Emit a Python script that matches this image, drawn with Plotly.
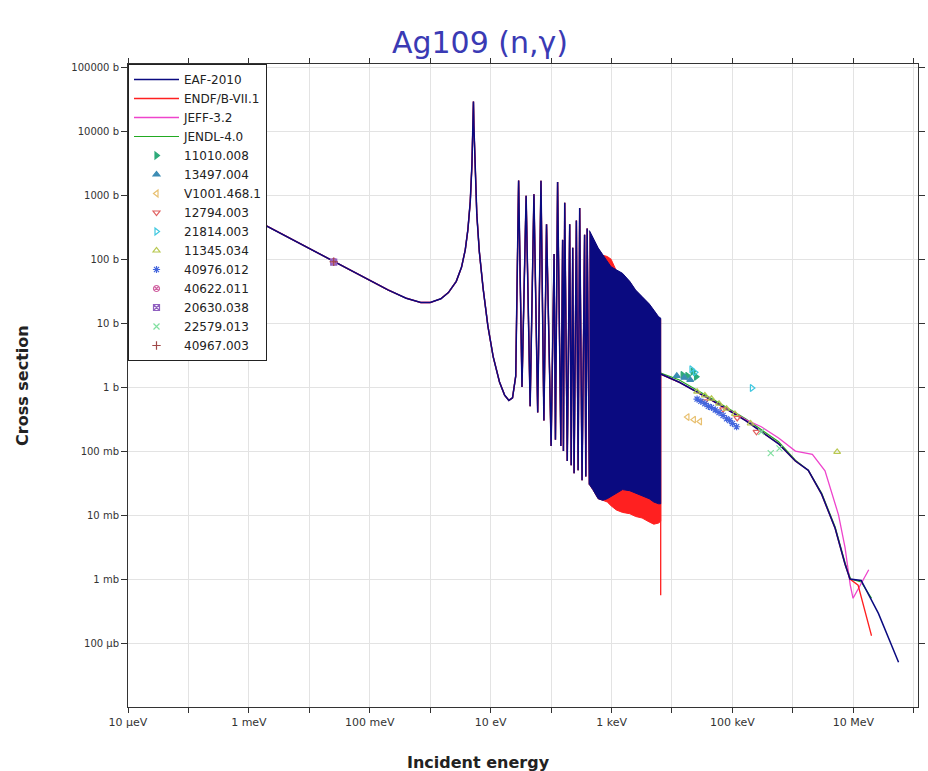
import plotly.graph_objects as go

# ---------------- data (energies in eV, cross sections in barns) ----------------
# shared thermal / first-resonance / resolved-resonance region
low_E = [1e-5, 1e-4, 1e-3, 3e-3, 0.01, 0.0253, 0.05, 0.1, 0.2, 0.4, 0.7, 1.0, 1.5, 2.0, 2.7,
         3.3, 3.8, 4.2, 4.6, 4.9, 5.1, 5.19, 5.28, 5.5, 5.9, 6.5, 7.5, 9, 11, 14, 17, 20, 23,
         26, 29, 33, 38.6, 45, 52, 60, 68, 76, 84, 100, 112, 118, 128, 145, 155, 160, 168,
         185, 203, 215, 228, 240, 262, 280, 297, 325, 358, 375, 395, 430]
low_xs = [4580, 1450, 458, 265, 145, 91.5, 65, 46, 33, 24.5, 21, 21, 24, 30, 45,
          75, 140, 290, 800, 3000, 12000, 29000, 12000, 2500, 500, 130, 35, 9, 3, 1.2, 0.75, 0.62, 0.68,
          1.5, 1700, 1.0, 980, 0.5, 1035, 0.4, 1680, 0.3, 350, 0.12, 120, 0.15, 1600, 0.12, 200, 0.1, 760,
          0.07, 350, 0.06, 150, 0.045, 400, 0.05, 630, 0.035, 240, 0.04, 300, 0.03]

# dense resonance block (envelopes)
block_E = [430, 490, 600, 717, 850, 980, 1200, 1520, 2000, 2500, 3200, 4200, 5000, 6000, 6500]
eaf_block_hi = [280, 224, 150, 117, 90, 76, 68, 60, 45, 33, 26, 20, 16, 12.6, 12]
eaf_block_lo = [0.03, 0.025, 0.018, 0.017, 0.018, 0.02, 0.022, 0.025, 0.024, 0.022, 0.02, 0.018, 0.016, 0.015, 0.015]
endf_block_hi = [270, 215, 145, 115, 110, 100, 66, 58, 44, 32, 25, 19.5, 15.5, 12.2, 11.5]
endf_block_lo = [0.03, 0.025, 0.018, 0.017, 0.016, 0.014, 0.012, 0.011, 0.0105, 0.0095, 0.009, 0.0078, 0.0072, 0.0075, 0.008]

# fast region
eaf_fast_E = [6.5e3, 1.3e4, 4.6e4, 1.65e5, 5.8e5, 1.1e6, 1.8e6, 3e6, 5e6, 7.3e6, 8.8e6, 1.35e7, 2.6e7, 5.6e7]
eaf_fast_xs = [1.6, 1.2, 0.62, 0.30, 0.13, 0.07, 0.05, 0.021, 0.0062, 0.0017, 0.001, 0.00095, 0.00029, 0.00005]

endf_fast_E = [6.5e3, 6.5e3, 1.3e4, 4.6e4, 1.65e5, 5.8e5, 1.1e6, 1.8e6, 3e6, 5e6, 7.3e6, 8.8e6, 1.2e7, 2.0e7]
endf_fast_xs = [0.00056, 1.6, 1.2, 0.62, 0.30, 0.13, 0.07, 0.05, 0.021, 0.0062, 0.0017, 0.001, 0.0008, 0.00013]

jeff_fast_E = [6.5e3, 1.3e4, 4.6e4, 1.65e5, 3e5, 5.8e5, 1.1e6, 2.1e6, 3.4e6, 5.7e6, 7.3e6, 8.9e6, 9.9e6, 1.2e7, 1.8e7]
jeff_fast_xs = [1.6, 1.2, 0.62, 0.31, 0.24, 0.16, 0.10, 0.089, 0.049, 0.010, 0.0031, 0.0008, 0.0005, 0.0007, 0.0014]

jendl_fast_E = [6.5e3, 1.3e4, 4.6e4, 1.65e5, 5.8e5, 1.1e6, 1.8e6, 3e6, 5e6, 7.3e6, 9e6, 1.35e7, 2e7]
jendl_fast_xs = [1.65, 1.3, 0.66, 0.32, 0.14, 0.072, 0.05, 0.022, 0.0065, 0.0018, 0.001, 0.0009, 0.0005]

# experimental data sets
exp_names = ["11010.008", "13497.004", "V1001.468.1", "12794.003", "21814.003", "11345.034",
             "40976.012", "40622.011", "20630.038", "22579.013", "40967.003"]
exp_E = [
    [1.5e4, 1.8e4, 2.2e4, 2.5e4],
    [1.2e4, 1.6e4, 2.0e4],
    [1.8e4, 2.3e4, 2.9e4],
    [3.5e4, 7e4, 1.2e5, 2.5e5],
    [2.1e4, 2.4e4, 2.1e5],
    [2.6e4, 3.5e4, 4.5e4, 6e4, 8e4, 1.1e5, 2e5, 5.4e6],
    [2.6e4, 3e4, 3.5e4, 4e4, 4.5e4, 5.2e4, 6e4, 7e4, 8e4, 9e4, 1e5, 1.17e5],
    [0.0253],
    [0.0253],
    [3e5, 4.3e5, 6e5],
    [0.0253],
]
exp_xs = [
    [1.55, 1.5, 1.75, 1.45],
    [1.5, 1.4, 1.3],
    [0.34, 0.31, 0.29],
    [0.6, 0.45, 0.33, 0.2],
    [1.9, 1.7, 0.97],
    [0.85, 0.74, 0.66, 0.55, 0.46, 0.38, 0.27, 0.097],
    [0.65, 0.6, 0.55, 0.5, 0.48, 0.44, 0.40, 0.36, 0.32, 0.30, 0.27, 0.24],
    [92],
    [90],
    [0.2, 0.093, 0.11],
    [91],
]
exp_symbols = ["triangle-right", "triangle-up", "triangle-left-open", "triangle-down-open",
               "triangle-right-open", "triangle-up-open", "asterisk-open", "circle-x-open",
               "square-x-open", "x-thin-open", "cross-thin-open"]
exp_colors = ["#2eaa7a", "#3c8cb4", "#e8c070", "#e06060", "#40c8e0", "#b8c850",
              "#4466dd", "#d060a0", "#9060c0", "#80e0a0", "#a04848"]

x_tickvals = [1e-5, 1e-4, 1e-3, 1e-2, 1e-1, 1, 10, 100, 1e3, 1e4, 1e5, 1e6, 1e7, 1e8]
x_ticktext = ["10 µeV", "", "1 meV", "", "100 meV", "", "10 eV", "", "1 keV", "", "100 keV", "", "10 MeV", ""]
y_tickvals = [1e-4, 1e-3, 1e-2, 1e-1, 1, 10, 100, 1e3, 1e4, 1e5]
y_ticktext = ["100 µb", "1 mb", "10 mb", "100 mb", "1 b", "10 b", "100 b", "1000 b", "10000 b", "100000 b"]

# ---------------- figure ----------------
fig = go.Figure()

def add_eval(name, color, width, rank, fast_E, fast_xs, block_hi=None, block_lo=None):
    fig.add_trace(go.Scatter(x=low_E, y=low_xs, mode="lines", name=name, legendgroup=name,
                             legendrank=rank, line=dict(color=color, width=width)))
    if block_hi is not None:
        fig.add_trace(go.Scatter(x=block_E + block_E[::-1], y=block_hi + block_lo[::-1],
                                 mode="lines", fill="toself", fillcolor=color,
                                 line=dict(color=color, width=1), showlegend=False,
                                 legendgroup=name, hoverinfo="skip"))
    fig.add_trace(go.Scatter(x=fast_E, y=fast_xs, mode="lines", showlegend=False, legendgroup=name,
                             line=dict(color=color, width=width)))

add_eval("JENDL-4.0", "#22aa22", 1.2, 4, jendl_fast_E, jendl_fast_xs)
add_eval("JEFF-3.2", "#ee44cc", 1.3, 3, jeff_fast_E, jeff_fast_xs)
add_eval("ENDF/B-VII.1", "#ff2020", 1.3, 2, endf_fast_E, endf_fast_xs, endf_block_hi, endf_block_lo)
add_eval("EAF-2010", "#0a0a80", 1.5, 1, eaf_fast_E, eaf_fast_xs, eaf_block_hi, eaf_block_lo)

for i, nm in enumerate(exp_names):
    fig.add_trace(go.Scatter(x=exp_E[i], y=exp_xs[i], mode="markers", name=nm, legendrank=10 + i,
                             marker=dict(symbol=exp_symbols[i], color=exp_colors[i], size=6,
                                         line=dict(color=exp_colors[i], width=1.2))))

fig.update_xaxes(type="log", range=[-5, 8.07], tickvals=x_tickvals, ticktext=x_ticktext,
                 showgrid=True, gridcolor="#e3e3e3", gridwidth=1, showline=True, linecolor="#333333",
                 linewidth=1, mirror="ticks", ticks="outside", ticklen=5, tickcolor="#333333",
                 tickfont=dict(family="DejaVu Sans", size=11, color="#333333"), zeroline=False)
fig.update_yaxes(type="log", range=[-5, 5.05], tickvals=y_tickvals, ticktext=y_ticktext,
                 showgrid=True, gridcolor="#e3e3e3", gridwidth=1, showline=True, linecolor="#333333",
                 linewidth=1, mirror="ticks", ticks="outside", ticklen=6, tickcolor="#333333",
                 tickfont=dict(family="DejaVu Sans", size=10, color="#333333"), zeroline=False)

plot_l, plot_r, plot_t, plot_b = 128, 925, 64, 707

def px_to_paper(xp, yp):
    return (xp - plot_l) / (plot_r - plot_l), (plot_b - yp) / (plot_b - plot_t)

xt_x, xt_y = px_to_paper(482, 763)
yt_x, yt_y = px_to_paper(22, 385)

fig.update_layout(
    width=928, height=771,
    margin=dict(l=plot_l, r=928 - plot_r, t=plot_t, b=771 - plot_b),
    paper_bgcolor="white", plot_bgcolor="white",
    title=dict(text="Ag109 (n,γ)", x=480 / 928, xanchor="center", y=1 - 42 / 771, yanchor="middle",
               font=dict(family="DejaVu Sans", size=30, color="#3a3ab4")),
    legend=dict(x=0, y=1, xanchor="left", yanchor="top", bgcolor="white", bordercolor="#222222",
                borderwidth=1, font=dict(family="DejaVu Sans", size=12, color="#222222"),
                tracegroupgap=0, itemwidth=45),
    annotations=[
        dict(text="<b>Incident energy</b>", x=xt_x, y=xt_y, xref="paper", yref="paper",
             xanchor="center", yanchor="middle", showarrow=False,
             font=dict(family="DejaVu Sans", size=16, color="#222222")),
        dict(text="<b>Cross section</b>", x=yt_x, y=yt_y, xref="paper", yref="paper",
             xanchor="center", yanchor="middle", textangle=-90, showarrow=False,
             font=dict(family="DejaVu Sans", size=16, color="#222222")),
    ],
)

fig.write_html("out.html")
